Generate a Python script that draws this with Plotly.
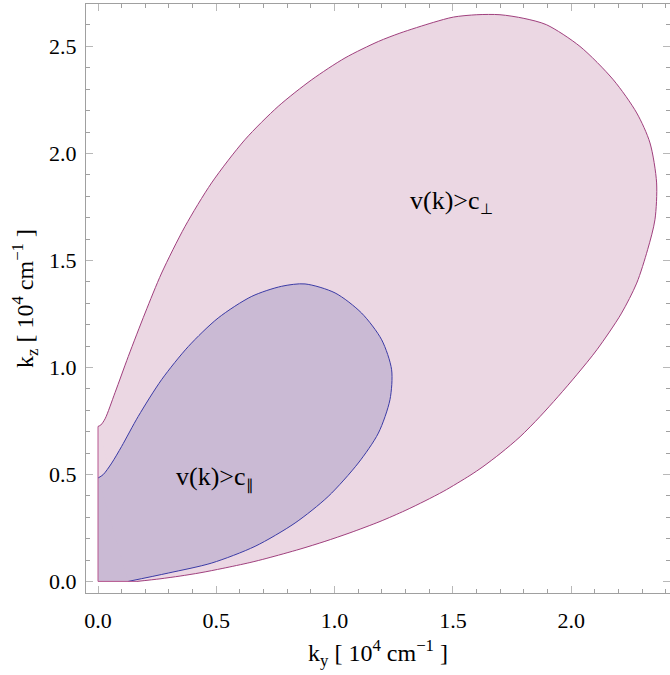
import plotly.graph_objects as go

# Region where v(k) > c_perp: origin, up the k_z axis, around the lobe, back to the k_y axis
outer_ky = [0.0, 0.0, 0.012, 0.030, 0.072, 0.128, 0.199, 0.269, 0.368, 0.480, 0.621,
            0.762, 0.903, 1.044, 1.185, 1.276, 1.417, 1.502, 1.601, 1.699, 1.800,
            1.896, 2.037, 2.178, 2.277, 2.333, 2.361, 2.354, 2.323, 2.277, 2.211,
            2.109, 2.024, 1.944, 1.868, 1.784, 1.703, 1.627, 1.572, 1.462, 1.382,
            1.298, 1.192, 1.065, 0.959, 0.854, 0.714, 0.642, 0.528, 0.431, 0.347,
            0.262, 0.165]
outer_kz = [0.0, 0.724, 0.731, 0.760, 0.882, 1.051, 1.254, 1.441, 1.659, 1.862, 2.064,
            2.220, 2.344, 2.446, 2.523, 2.562, 2.612, 2.637, 2.648, 2.648, 2.631,
            2.601, 2.500, 2.344, 2.189, 2.049, 1.862, 1.690, 1.550, 1.394, 1.250,
            1.083, 0.966, 0.863, 0.770, 0.676, 0.600, 0.536, 0.495, 0.422, 0.376,
            0.331, 0.280, 0.227, 0.187, 0.151, 0.108, 0.088, 0.061, 0.040, 0.025,
            0.012, 0.0]

# Region where v(k) > c_par
inner_ky = [0.0, 0.0, 0.022, 0.058, 0.100, 0.170, 0.269, 0.382, 0.508, 0.650, 0.776,
            0.875, 1.002, 1.114, 1.199, 1.241, 1.234, 1.185, 1.100, 0.973, 0.833,
            0.664, 0.481, 0.297, 0.128]
inner_kz = [0.0, 0.483, 0.499, 0.553, 0.631, 0.771, 0.943, 1.098, 1.231, 1.332, 1.379,
            1.390, 1.348, 1.254, 1.129, 0.989, 0.849, 0.693, 0.553, 0.397, 0.273,
            0.164, 0.086, 0.039, 0.0]

region_labels = ["v(k)>c<sub><span style='font-size:15px'>⊥</span></sub>",
                 "v(k)>c<sub><span style='font-size:15px'>∥</span></sub>"]
label_ky = [1.496, 0.494]
label_kz = [1.774, 0.485]

x_ticks = [0.0, 0.5, 1.0, 1.5, 2.0]
y_ticks = [0.0, 0.5, 1.0, 1.5, 2.0, 2.5]

OUTER_FILL = "#EBD7E3"
OUTER_LINE = "#A0407E"
INNER_FILL = "#CABAD4"
INNER_LINE = "#3B3BA6"
FRAME = "#A0A0A0"
FONT = "Liberation Serif"
SMOOTH = 0.8


def add_region(fig, ky, kz, fill):
    # polygon underlay keeps the corners on the axes sharp
    fig.add_trace(go.Scatter(x=ky, y=kz, mode="lines", fill="toself", fillcolor=fill,
                             line=dict(width=0), hoverinfo="skip", showlegend=False))
    # smooth fill for the curved boundary
    fig.add_trace(go.Scatter(x=ky[1:], y=kz[1:], mode="lines", fill="toself", fillcolor=fill,
                             line=dict(width=0, shape="spline", smoothing=SMOOTH),
                             hoverinfo="skip", showlegend=False))


def add_outline(fig, ky, kz, line_color, with_axes_edges):
    fig.add_trace(go.Scatter(x=ky[1:], y=kz[1:], mode="lines",
                             line=dict(color=line_color, width=1, shape="spline", smoothing=SMOOTH),
                             hoverinfo="skip", showlegend=False))
    if with_axes_edges:
        fig.add_trace(go.Scatter(x=[ky[-1], ky[0], ky[1]], y=[kz[-1], kz[0], kz[1]], mode="lines",
                                 line=dict(color="#B6578F", width=1),
                                 hoverinfo="skip", showlegend=False))


fig = go.Figure()
add_region(fig, outer_ky, outer_kz, OUTER_FILL)
add_region(fig, inner_ky, inner_kz, INNER_FILL)
add_outline(fig, inner_ky, inner_kz, INNER_LINE, False)
add_outline(fig, outer_ky, outer_kz, OUTER_LINE, True)

for txt, xv, yv in zip(region_labels, label_ky, label_kz):
    fig.add_annotation(x=xv, y=yv, text=txt, showarrow=False,
                       font=dict(family=FONT, size=26, color="black"))

axis_common = dict(
    showline=True, linecolor=FRAME, linewidth=1, mirror="ticks",
    ticks="inside", ticklen=7, tickcolor="#B8B8B8", tickwidth=1,
    showgrid=False, zeroline=False, tickformat=".1f",
    tickfont=dict(family=FONT, size=22, color="black"),
    minor=dict(ticks="inside", ticklen=4, tickcolor=FRAME, dtick=0.1, showgrid=False),
)

title_font = dict(family=FONT, size=24, color="black")
fig.update_xaxes(range=[-0.0507, 2.4176], tickvals=x_ticks, ticklabelstandoff=8,
                 title=dict(text="k<sub>y</sub> [ 10<sup>4</sup> cm<sup>−1</sup> ]",
                            font=title_font, standoff=11),
                 **axis_common)
fig.update_yaxes(range=[-0.0542, 2.6981], tickvals=y_ticks, ticklabelstandoff=4,
                 title=dict(text="k<sub>z</sub> [ 10<sup>4</sup> cm<sup>−1</sup> ]",
                            font=title_font, standoff=8),
                 **axis_common)

fig.update_layout(
    width=670, height=675,
    margin=dict(l=86, r=0, t=4, b=82, autoexpand=False),
    plot_bgcolor="white", paper_bgcolor="white",
)

fig.write_html("out.html")
